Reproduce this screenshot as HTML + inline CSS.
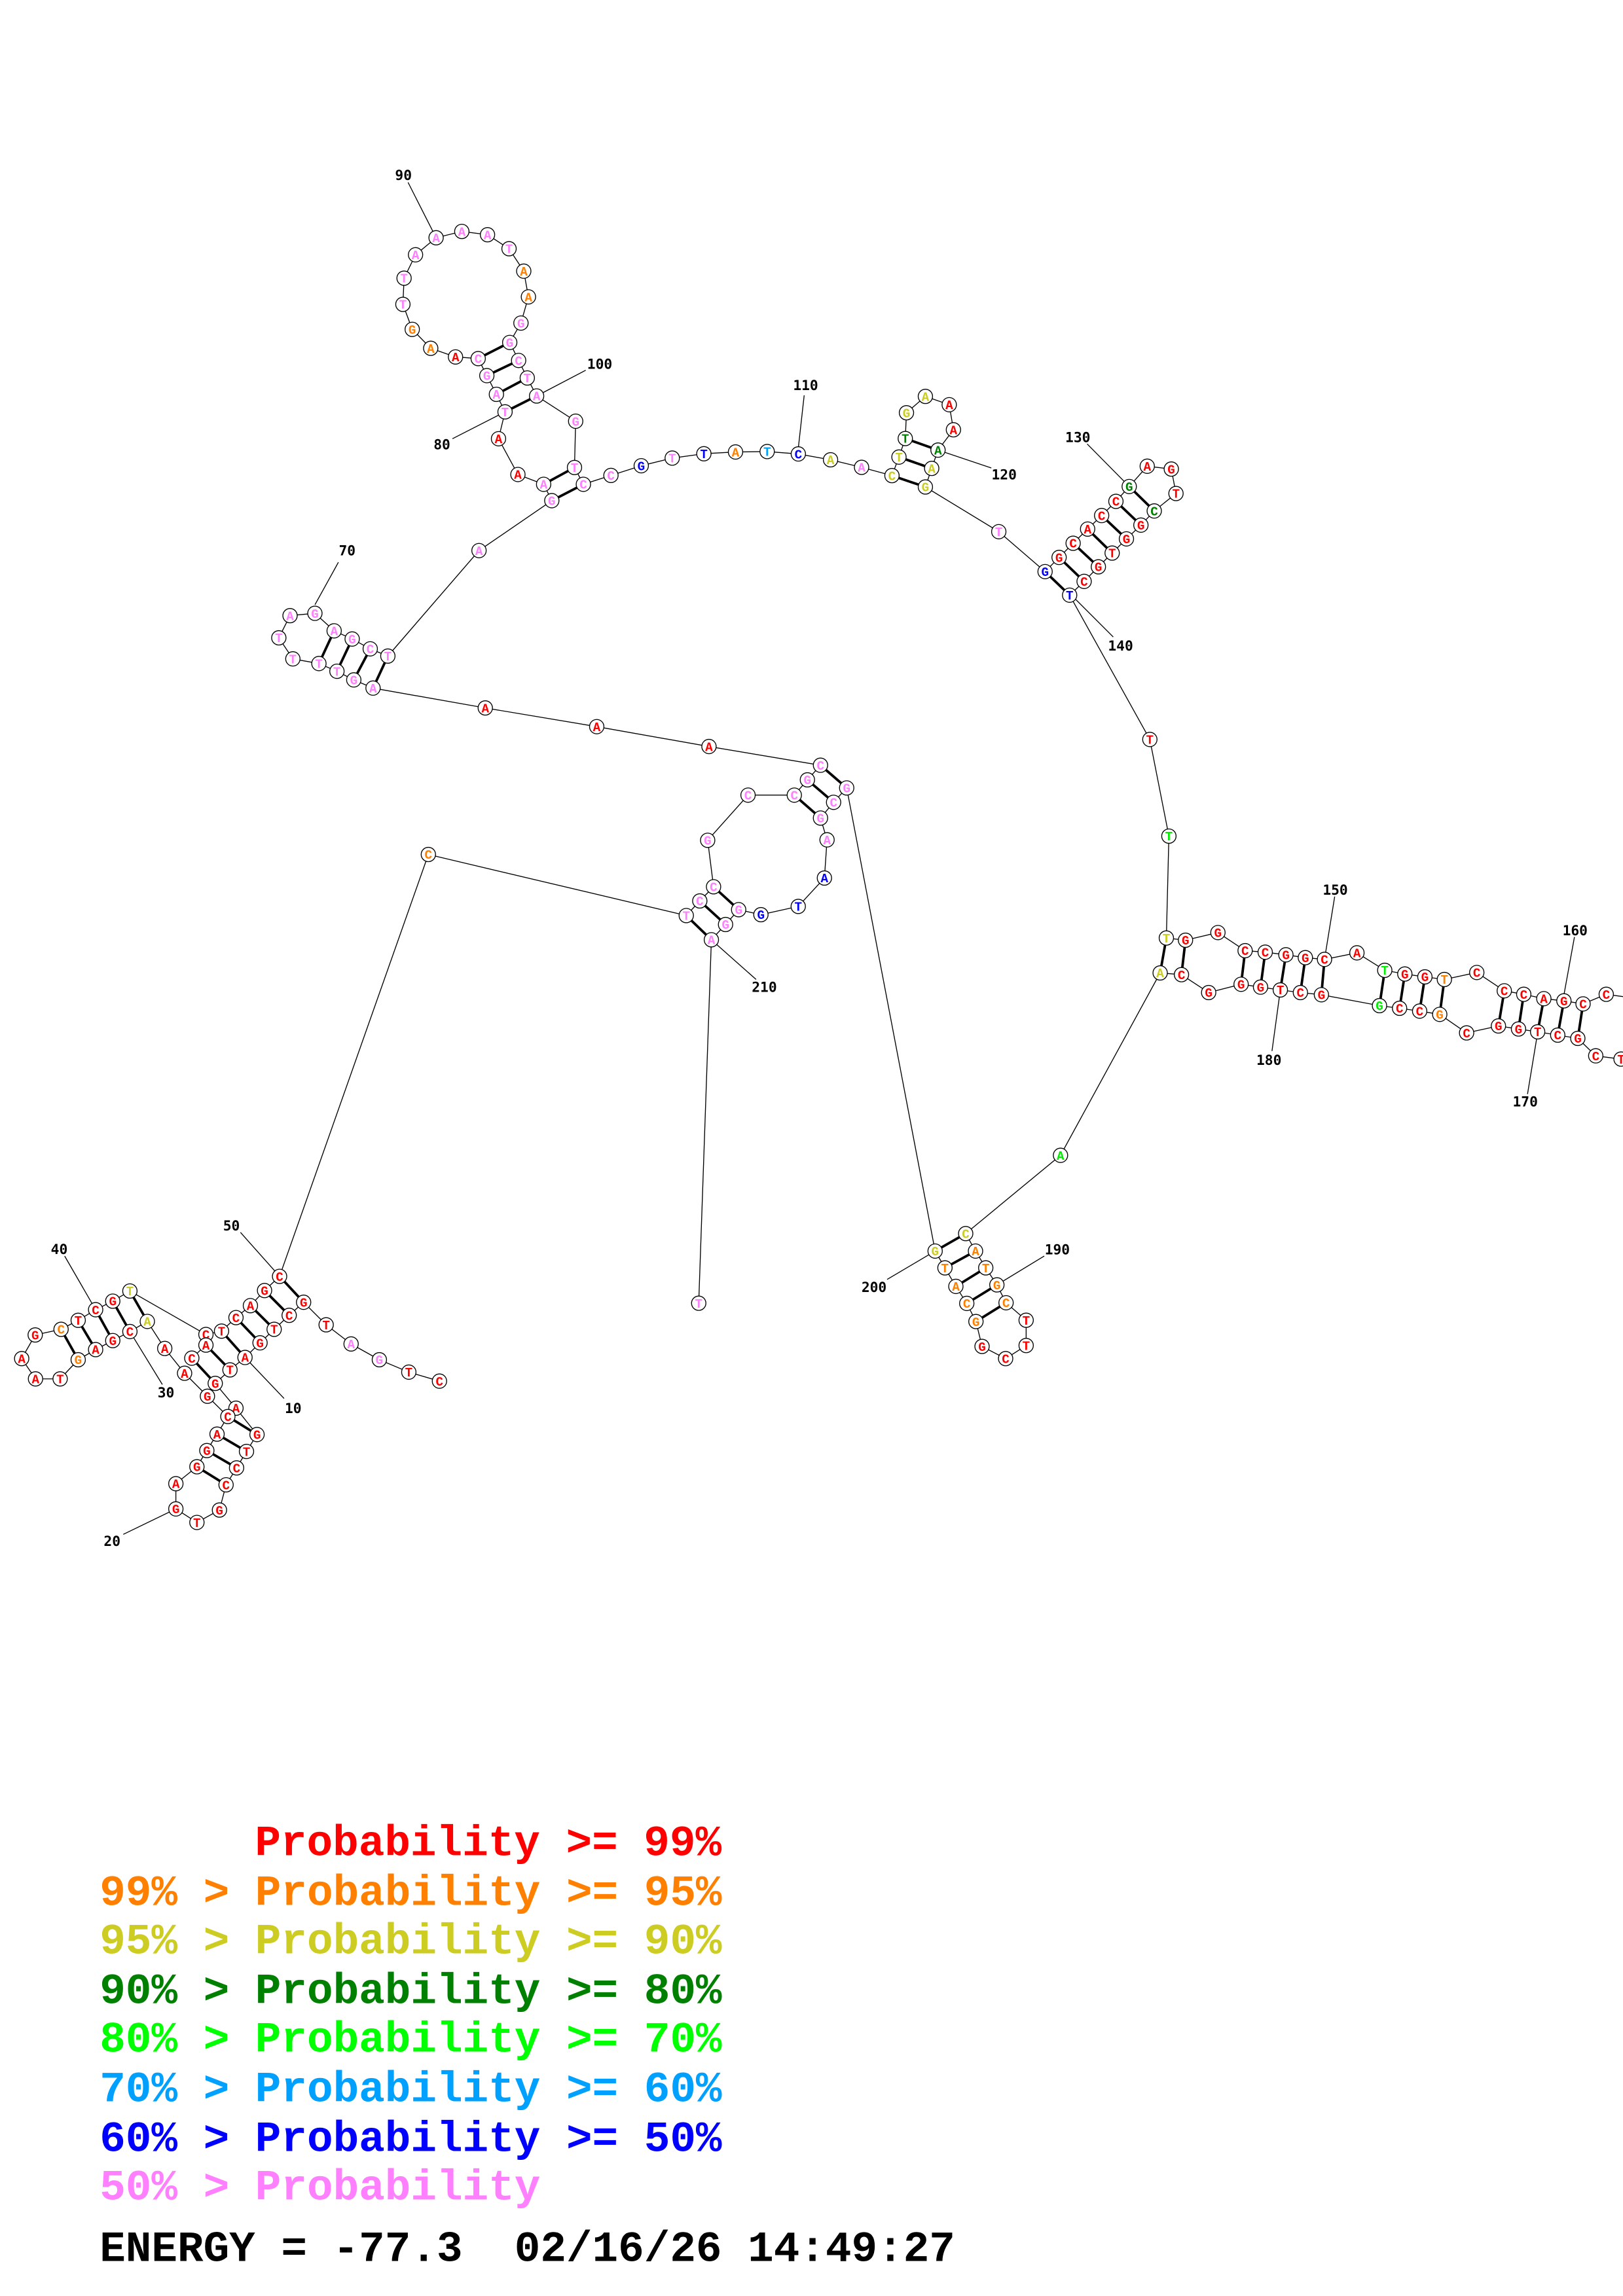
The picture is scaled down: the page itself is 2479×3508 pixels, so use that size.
<!DOCTYPE html>
<html><head><meta charset="utf-8">
<style>
html,body{margin:0;padding:0;background:#fff;}
svg{display:block;}
.nt{font-family:"Liberation Mono","DejaVu Sans Mono",monospace;font-weight:bold;font-size:8.6px;}
.lb{font-family:"DejaVu Sans Mono","Liberation Mono",monospace;font-weight:bold;font-size:9.5px;fill:#000;}
.lg{font-family:"Liberation Mono",monospace;font-weight:bold;font-size:29.5px;}
</style></head>
<body>
<svg id="s" xmlns="http://www.w3.org/2000/svg" width="2479" height="3508" viewBox="0 0 1108 1568">
<rect width="1108" height="1568" fill="#fff"/>
<g id="bb"></g><g id="pr"></g><g id="lbl"></g><g id="nd"></g>
<g class="lg">
<text x="174" y="1267" fill="#ff0000">Probability &gt;= 99%</text>
<text x="68" y="1301" fill="#ff8000">99% &gt; Probability &gt;= 95%</text>
<text x="68" y="1334" fill="#cccc22">95% &gt; Probability &gt;= 90%</text>
<text x="68" y="1368" fill="#008000">90% &gt; Probability &gt;= 80%</text>
<text x="68" y="1401" fill="#00ff00">80% &gt; Probability &gt;= 70%</text>
<text x="68" y="1435" fill="#00a0ff">70% &gt; Probability &gt;= 60%</text>
<text x="68" y="1469" fill="#0000ff">60% &gt; Probability &gt;= 50%</text>
<text x="68" y="1502" fill="#ff80ff">50% &gt; Probability</text>
<text x="68" y="1544" fill="#000" xml:space="preserve" style="white-space:pre">ENERGY = -77.3  02/16/26 14:49:27</text>
</g>
</svg>
<script>
const Z={1:[312.9,214.5,.149,.149],2:[0,822.4,.2052,.1539],3:[178.8,107.3,.1596,.1596],4:[169.8,393.3,.2737,.1596],5:[581.0,250.3,.1596,.149],6:[777.7,594.4,.2109,.149],7:[572.1,813.4,.149,.149],8:[1019,616.8,.149,.149],9:[446.9,491.6,.149,.149],0:[0,0,1,1]};
const COL={r:'#ff0000',o:'#ff8000',y:'#cccc22',g:'#008000',l:'#00ee00',c:'#00a0ff',b:'#0000ff',p:'#ff80ff'};
function T(z,x,y){const t=Z[z];return [t[0]+x*t[2],t[1]+y*t[3]];}
const seq=[
[2,[[1462,785,'C','r'],[1360,745,'T','r'],[1262,690,'G','p'],[1168,620,'A','p'],[1085,535,'T','r'],[1010,435,'G','r'],[962,493,'C','r'],[912,555,'T','r'],[865,615,'G','r'],[815,680,'A','r'],[765,735,'T','r'],[716,795,'G','r'],[785,905,'A','r'],[855,1022,'G','r'],[820,1097,'T','r'],[787,1170,'C','r'],[752,1245,'C','r'],[730,1357,'G','r'],[655,1412,'T','r'],[585,1352,'G','r'],[585,1240,'A','r'],[655,1165,'G','r'],[688,1093,'G','r'],[722,1020,'A','r'],[758,942,'C','r'],[690,852,'G','r'],[614,750,'A','r'],[548,640,'A','r'],[490,520,'A','y'],[432,565,'C','r'],[375,605,'G','r'],[318,645,'A','r'],[260,690,'G','o'],[200,775,'T','r'],[118,775,'A','r'],[72,685,'A','r'],[117,580,'G','r'],[203,555,'C','o'],[260,515,'T','r'],[318,468,'C','r'],[375,430,'G','r'],[432,385,'T','y'],[685,578,'C','r'],[737,563,'T','r'],[785,503,'C','r'],[833,450,'A','r'],[880,383,'G','r'],[930,320,'C','r']]],
[4,[[448,1192,'C','o']]],
[9,[[145,897,'T','p'],[207,830,'C','p'],[270,765,'C','p'],[243,552,'G','p'],[428,345,'C','p'],[640,345,'C','p'],[700,275,'G','p'],[760,208,'C','p']]],
[4,[[1148,730,'A','r'],[868,645,'A','r'],[590,565,'A','r'],[310,480,'A','p'],[262,445,'G','p'],[220,408,'T','p'],[175,375,'T','p'],[110,355,'T','p'],[75,265,'T','p'],[103,170,'A','p'],[165,160,'G','p'],[213,235,'A','p'],[258,270,'G','p'],[303,312,'C','p'],[347,343,'T','p']]],
[0,[[327,376,'A','p']]],
[3,[[1240,1470,'G','p'],[1205,1400,'A','p'],[1095,1358,'A','r'],[1012,1205,'A','r'],[1040,1090,'T','p'],[1003,1015,'A','p'],[962,935,'G','p'],[925,862,'C','p'],[828,855,'A','r'],[722,818,'A','o'],[643,737,'G','o'],[603,630,'T','p'],[608,518,'T','p'],[657,418,'A','p'],[745,345,'A','p'],[855,318,'A','p'],[965,332,'A','p'],[1057,392,'T','p'],[1120,488,'A','o'],[1140,598,'A','o'],[1108,710,'G','p'],[1060,793,'G','p'],[1098,870,'C','p'],[1135,945,'T','p'],[1175,1022,'A','p'],[1342,1130,'G','p'],[1337,1328,'T','p'],[1375,1400,'C','p'],[1493,1362,'C','p']]],
[1,[[838,695,'G','b'],[980,660,'T','p'],[1125,640,'T','b'],[1270,632,'A','o'],[1415,630,'T','c']]],
[0,[[545,310,'C','b'],[567,314,'A','y']]],
[5,[[45,462,'A','p'],[175,500,'C','y'],[205,415,'T','y'],[232,330,'T','g'],[237,212,'G','y'],[318,137,'A','y'],[420,175,'A','r'],[438,290,'A','r'],[372,383,'A','g'],[345,467,'A','y'],[318,552,'G','y'],[632,757,'T','p'],[830,940,'G','b'],[890,875,'G','r'],[950,810,'C','r'],[1012,745,'A','r'],[1072,683,'C','r'],[1133,618,'C','r'],[1190,550,'G','g'],[1267,457,'A','r'],[1370,470,'G','r'],[1390,582,'T','r'],[1297,662,'C','g'],[1240,727,'G','r'],[1178,790,'G','r'],[1117,855,'T','r'],[1058,918,'G','r'],[997,985,'C','r'],[935,1048,'T','b']]],
[0,[[785,505,'T','r'],[798,571,'T','l']]],
[6,[[88,310,'T','y'],[150,320,'G','r'],[255,285,'G','r'],[343,368,'C','r'],[408,375,'C','r'],[475,387,'G','r'],[538,400,'G','r'],[600,408,'C','r'],[705,378,'A','r'],[795,458,'T','l'],[860,475,'G','r'],[925,488,'G','r'],[988,500,'T','o'],[1093,468,'C','r'],[1182,552,'C','r'],[1245,568,'C','r'],[1310,588,'A','r'],[1375,598,'G','r'],[1437,612,'C','r'],[1512,568,'C','r'],[1600,585,'C','r'],[1620,870,'C','r'],[1560,865,'T','r'],[1478,850,'C','r'],[1420,770,'G','r'],[1355,755,'C','r'],[1290,740,'T','r'],[1228,727,'G','r'],[1163,713,'G','r'],[1060,745,'C','r'],[973,660,'G','o'],[908,645,'C','r'],[843,632,'C','r'],[778,620,'G','l'],[590,570,'G','r'],[522,560,'C','r'],[457,548,'T','r'],[393,535,'G','r'],[330,522,'G','r'],[225,560,'G','r'],[137,478,'C','r'],[68,470,'A','y']]],
[0,[[724,789,'A','l']]],
[7,[[585,195,'C','y'],[630,275,'A','o'],[677,352,'T','o'],[728,430,'G','o'],[770,512,'C','o'],[862,592,'T','r'],[862,708,'T','r'],[768,768,'C','r'],[660,712,'G','r'],[632,598,'G','o'],[590,515,'C','o'],[540,437,'A','o'],[490,352,'T','o'],[445,275,'G','y']]],
[9,[[880,312,'G','p'],[820,378,'C','p'],[760,450,'G','p'],[790,550,'A','p'],[778,725,'A','b'],[658,855,'T','b'],[487,893,'G','b'],[385,870,'G','p'],[325,938,'G','p'],[260,1008,'A','p']]],
[0,[[477,890,'T','p']]]
];
const extra=[[2,[[685,578,null],[685,625,'A','r'],[638,683,'C','r']]]];
const pairs=[
[2,930,320,1010,435],[2,880,383,962,493],[2,833,450,912,555],[2,785,503,865,615],[2,737,563,815,680],[2,685,625,765,735],[2,638,683,716,795],[2,758,942,855,1022],[2,722,1020,820,1097],[2,688,1093,787,1170],[2,655,1165,752,1245],[2,432,385,490,520],[2,375,430,432,565],[2,318,468,375,605],[2,260,515,318,645],[2,203,555,260,690],
[9,760,208,880,312],[9,700,275,820,378],[9,640,345,760,450],[9,270,765,385,870],[9,207,830,325,938],[9,145,897,260,1008],
[4,310,480,347,343],[4,262,445,303,312],[4,220,408,258,270],[4,175,375,213,235],
[3,925,862,1060,793],[3,962,935,1098,870],[3,1003,1015,1135,945],[3,1040,1090,1175,1022],[3,1205,1400,1337,1328],[3,1240,1470,1375,1400],
[5,175,500,318,552],[5,205,415,345,467],[5,232,330,372,383],[5,830,940,935,1048],[5,890,875,997,985],[5,950,810,1058,918],[5,1012,745,1117,855],[5,1072,683,1178,790],[5,1133,618,1240,727],[5,1190,550,1297,662],
[6,88,310,68,470],[6,150,320,137,478],[6,343,368,330,522],[6,408,375,393,535],[6,475,387,457,548],[6,538,400,522,560],[6,600,408,590,570],[6,795,458,778,620],[6,860,475,843,632],[6,925,488,908,645],[6,988,500,973,660],[6,1182,552,1163,713],[6,1245,568,1228,727],[6,1310,588,1290,740],[6,1375,598,1355,755],[6,1437,612,1420,770],
[7,585,195,445,275],[7,630,275,490,352],[7,677,352,540,437],[7,728,430,590,515],[7,770,512,632,598]
];
const labels=[
[2,975,905,'10',945,862,815,680],[2,373,1495,'20',410,1465,585,1352],[2,552,835,'30',540,800,432,565],[2,197,200,'40',215,230,318,468],[2,770,95,'50',800,125,930,320],
[3,605,78,'90',625,108,745,345],[3,770,1230,'80',815,1205,1040,1090],[3,1445,885,'100',1385,912,1175,1022],
[5,655,495,'120',600,465,372,383],[5,970,325,'130',1010,355,1190,550],
[6,635,90,'150',633,120,600,408],[6,420,870,'180',430,828,457,548],
[8,378,125,'160',375,155,322,447],[8,150,910,'170',160,875,207,590],
[7,1005,268,'190',945,298,728,430],[7,165,440,'200',225,405,445,275],
[9,503,1225,'210',465,1190,260,1008],
[0,237,376,'70',231,384,215,413],[0,550,263,'110',549,270,545,306],[0,765,441,'140',760,435,731,406]
];
const NS='http://www.w3.org/2000/svg';
function el(p,t,a,txt){const e=document.createElementNS(NS,t);for(const k in a)e.setAttribute(k,a[k]);if(txt!=null)e.textContent=txt;document.getElementById(p).appendChild(e);return e;}
function line(p,a,b,w){el(p,'line',{x1:a[0].toFixed(2),y1:a[1].toFixed(2),x2:b[0].toFixed(2),y2:b[1].toFixed(2),stroke:'#000','stroke-width':w});}
const nodes=[];
function chainPts(list){const pts=[];for(const [z,arr] of list){for(const n of arr){const q=T(z,n[0],n[1]);pts.push(q);if(n[2])nodes.push([q,n[2],n[3]]);}}return pts;}
const main=chainPts(seq);
for(let i=0;i<main.length-1;i++)line('bb',main[i],main[i+1],0.6);
const ex=chainPts(extra);
for(let i=0;i<ex.length-1;i++)line('bb',ex[i],ex[i+1],0.6);
for(const p of pairs){line('pr',T(p[0],p[1],p[2]),T(p[0],p[3],p[4]),1.7);}
for(const l of labels){const z=l[0];const t=T(z,l[1],l[2]);line('lbl',T(z,l[4],l[5]),T(z,l[6],l[7]),0.6);el('lbl','text',{x:t[0].toFixed(1),y:(t[1]+3.3).toFixed(1),'text-anchor':'middle','class':'lb'},l[3]);}
for(const n of nodes){const q=n[0];el('nd','circle',{cx:q[0].toFixed(2),cy:q[1].toFixed(2),r:4.9,fill:'#fff',stroke:'#000','stroke-width':0.6});el('nd','text',{x:q[0].toFixed(2),y:(q[1]+3).toFixed(2),'text-anchor':'middle','class':'nt',fill:COL[n[2]]},n[1]);}
</script>
</body></html>
